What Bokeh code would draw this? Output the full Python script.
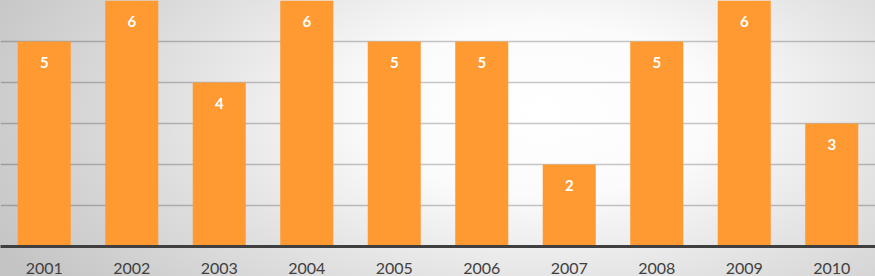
from bokeh.plotting import figure
from bokeh.models import ColumnDataSource, FactorRange, Range1d
from bokeh.core.properties import value
from bokeh.embed import file_html
from bokeh.resources import INLINE

years = ["2001", "2002", "2003", "2004", "2005", "2006", "2007", "2008", "2009", "2010"]
counts = [5, 6, 4, 6, 5, 5, 2, 5, 6, 3]

src = ColumnDataSource(data=dict(year=years, count=counts, label=[str(c) for c in counts]))

p = figure(width=875, height=276, x_range=FactorRange(factors=years), y_range=Range1d(0, 6),
           output_backend="svg", toolbar_location=None,
           min_border_left=0, min_border_right=0, min_border_top=0, min_border_bottom=0)
p.styles = {"background": "radial-gradient(ellipse 70% 110% at 62% 40%, #ffffff 0%, #fbfbfb 28%, #e0e0e0 62%, #c4c4c4 100%)"}
p.background_fill_alpha = 0
p.border_fill_alpha = 0
p.outline_line_color = None

p.vbar(x="year", top="count", width=0.606, source=src, fill_color="#FF9A33", line_color=None)
p.text(x="year", y="count", text="label", source=src, y_offset=15, text_align="center",
       text_baseline="top", text_color="white", text_font=value("Lato"),
       text_font_style="bold", text_font_size="15px")

p.xgrid.grid_line_color = None
p.ygrid.grid_line_color = "black"
p.ygrid.grid_line_alpha = 0.22
p.ygrid.grid_line_width = 1.5
p.yaxis.visible = False

p.xaxis.axis_line_color = "#3f3f3f"
p.xaxis.axis_line_width = 3
p.xaxis.major_tick_line_color = None
p.xaxis.minor_tick_line_color = None
p.xaxis.major_tick_out = 0
p.xaxis.major_tick_in = 0
p.xaxis.major_label_standoff = 16
p.xaxis.major_label_text_font = "Lato"
p.xaxis.major_label_text_font_size = "16px"
p.xaxis.major_label_text_color = "#404040"

open("out.html", "w").write(file_html(p, INLINE))
